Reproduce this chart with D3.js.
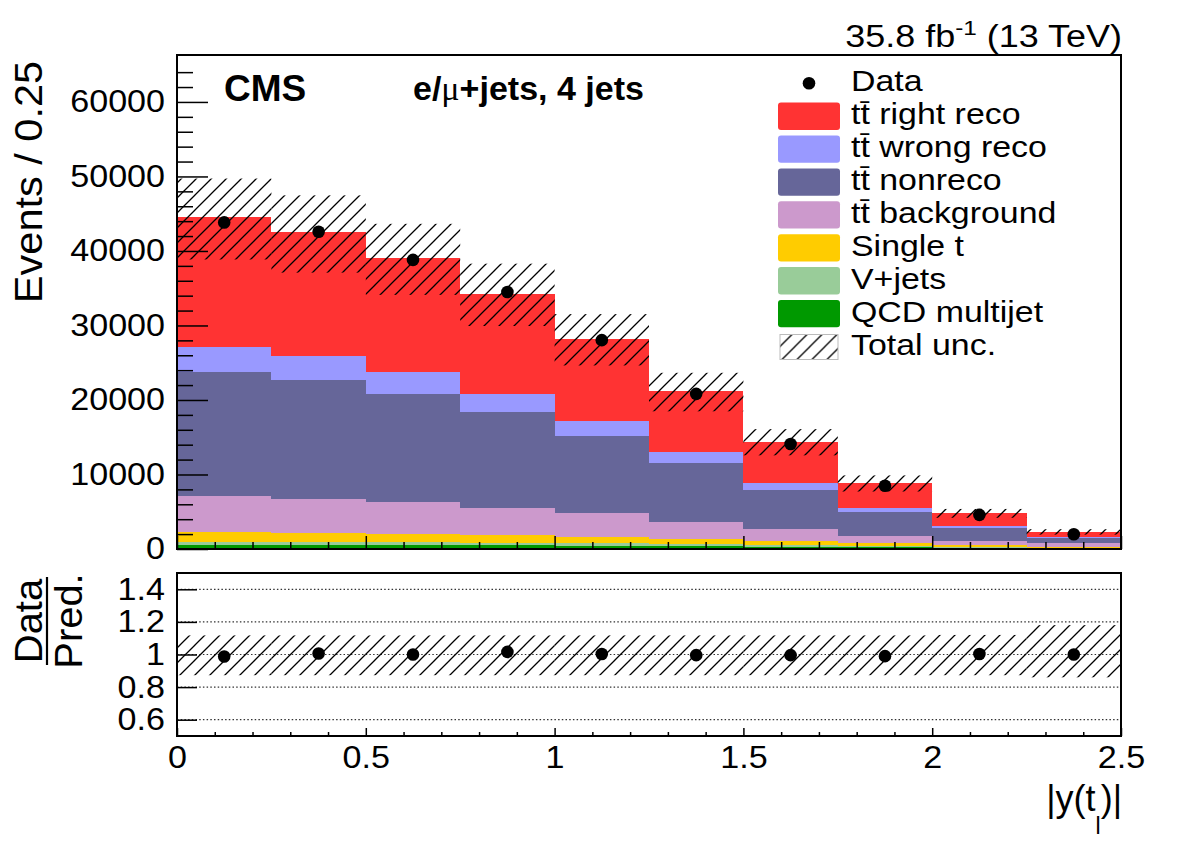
<!DOCTYPE html>
<html>
<head>
<meta charset="utf-8">
<title>|y(t_l)| control distribution</title>
<script src="https://cdn.jsdelivr.net/npm/d3@7/dist/d3.min.js"></script>
<style>
  html, body { margin: 0; padding: 0; background: #fff; }
  #chart { display: block; font-family: 'Liberation Sans', Arial, Helvetica, sans-serif; }
</style>
</head>
<body>
<svg id="chart" width="1182" height="848"></svg>
<script>
// bins in |y(t_l)|
const binEdges = [0, 0.25, 0.5, 0.75, 1, 1.25, 1.5, 1.75, 2, 2.25, 2.5];

// predicted yields per bin, stacked bottom -> top
const qcdMultijet = [540, 530, 510, 480, 450, 400, 330, 250, 160, 90];
const vJets = [440, 410, 390, 380, 350, 300, 250, 190, 140, 80];
const singleTop = [1270, 1170, 1120, 1020, 860, 650, 500, 410, 240, 140];
const ttBackground = [4920, 4620, 4260, 3680, 3140, 2260, 1570, 850, 580, 460];
const ttNonreco = [16610, 15920, 14580, 12840, 10410, 7920, 5290, 3240, 1670, 750];
const ttWrongReco = [3370, 3230, 2960, 2460, 2020, 1430, 900, 540, 310, 140];
const ttRightReco = [17360, 16610, 15250, 13420, 10990, 8210, 5560, 3360, 1700, 590];

const dataCounts = [43830, 42570, 38800, 34500, 28030, 20820, 14090, 8480, 4580, 1980];
const ratioValues = [0.988, 1.006, 1.0, 1.016, 1.003, 0.996, 0.996, 0.99, 1.003, 1.0];

// relative total uncertainty (up / down)
const uncUp = [0.117, 0.117, 0.117, 0.117, 0.117, 0.117, 0.117, 0.117, 0.12, 0.18];
const uncDown = [0.127, 0.127, 0.127, 0.127, 0.127, 0.127, 0.127, 0.127, 0.127, 0.14];

const mainYTicks = [0, 10000, 20000, 30000, 40000, 50000, 60000];
const ratioYTicks = [0.6, 0.8, 1, 1.2, 1.4];
const xTicks = [0, 0.5, 1, 1.5, 2, 2.5];

(function () {
  'use strict';

  const svg = d3.select('#chart');
  const frame = { left: 177, right: 1121, top: 55, bottom: 549 };
  const ratioFrame = { left: 177, right: 1121, top: 573, bottom: 736 };
  const stretch = 1.1;
  const labelSize = 31;

  const x = d3.scaleLinear().domain([binEdges[0], binEdges[binEdges.length - 1]]).range([frame.left, frame.right]);
  const y = d3.scaleLinear().domain([0, 66300]).range([frame.bottom, frame.top]);
  const yRatio = d3.scaleLinear().domain([0.5, 1.5]).range([ratioFrame.bottom, ratioFrame.top]);

  const processes = [
    { key: 'qcd', values: qcdMultijet, color: '#009900', label: 'QCD multijet' },
    { key: 'vjets', values: vJets, color: '#99cc99', label: 'V+jets' },
    { key: 'single', values: singleTop, color: '#ffcc00', label: 'Single t' },
    { key: 'ttbkg', values: ttBackground, color: '#cc99cc', label: 't\u0074\u0304 background' },
    { key: 'nonreco', values: ttNonreco, color: '#666699', label: 't\u0074\u0304 nonreco' },
    { key: 'wrong', values: ttWrongReco, color: '#9999ff', label: 't\u0074\u0304 wrong reco' },
    { key: 'right', values: ttRightReco, color: '#ff3333', label: 't\u0074\u0304 right reco' },
  ];

  const rows = dataCounts.map((_, i) => {
    const row = { lo: binEdges[i], hi: binEdges[i + 1], mid: (binEdges[i] + binEdges[i + 1]) / 2 };
    processes.forEach((p) => { row[p.key] = p.values[i]; });
    return row;
  });
  const series = d3.stack().keys(processes.map((p) => p.key))(rows);
  const totals = series[series.length - 1].map((d) => d[1]);

  const defs = svg.append('defs');
  const hatch = defs.append('pattern')
    .attr('id', 'hatch')
    .attr('patternUnits', 'userSpaceOnUse')
    .attr('width', 15)
    .attr('height', 15);
  hatch.append('path')
    .attr('d', 'M-4,4 L4,-4 M0,15 L15,0 M11,19 L19,11')
    .attr('stroke', '#000')
    .attr('stroke-width', 1.3);

  // ---- main pad ----
  svg.append('g')
    .selectAll('g')
    .data(series)
    .join('g')
    .attr('fill', (d) => processes.find((p) => p.key === d.key).color)
    .selectAll('rect')
    .data((d) => d)
    .join('rect')
    .attr('shape-rendering', 'crispEdges')
    .attr('x', (d) => x(d.data.lo))
    .attr('width', (d) => x(d.data.hi) - x(d.data.lo))
    .attr('y', (d) => y(d[1]))
    .attr('height', (d) => y(d[0]) - y(d[1]));

  svg.append('g')
    .selectAll('rect')
    .data(rows)
    .join('rect')
    .attr('x', (d) => x(d.lo))
    .attr('width', (d) => x(d.hi) - x(d.lo))
    .attr('y', (d, i) => y(totals[i] * (1 + uncUp[i])))
    .attr('height', (d, i) => y(totals[i] * (1 - uncDown[i])) - y(totals[i] * (1 + uncUp[i])))
    .attr('fill', 'url(#hatch)');

  svg.append('g')
    .selectAll('circle')
    .data(rows)
    .join('circle')
    .attr('cx', (d) => x(d.mid))
    .attr('cy', (d, i) => y(dataCounts[i]))
    .attr('r', 6.3)
    .attr('fill', '#000');

  function tidyAxis(g, size) {
    g.attr('font-family', null).attr('font-size', size || labelSize);
    g.select('.domain').remove();
    g.selectAll('line').attr('stroke', '#000').attr('stroke-width', 1.5);
    g.selectAll('text').attr('fill', '#000');
  }

  const yMinor = d3.range(0, 66000, 2000).filter((v) => v % 10000 !== 0);
  svg.append('g')
    .attr('transform', `translate(${frame.left},0)`)
    .call(d3.axisLeft(y).tickValues(yMinor).tickSize(-16).tickFormat(''))
    .call(tidyAxis);
  const yAxis = svg.append('g')
    .attr('transform', `translate(${frame.left},0)`)
    .call(d3.axisLeft(y).tickValues(mainYTicks).tickSize(-31).tickFormat(d3.format('d')))
    .call(tidyAxis);
  yAxis.selectAll('text').attr('x', -12 / stretch).attr('transform', `scale(${stretch},1)`);

  const xMinor = d3.range(0, 2.51, 0.1).map((v) => Math.round(v * 10) / 10).filter((v) => xTicks.indexOf(v) < 0);
  svg.append('g')
    .attr('transform', `translate(0,${frame.bottom})`)
    .call(d3.axisBottom(x).tickValues(xMinor).tickSize(-7).tickFormat(''))
    .call(tidyAxis);
  svg.append('g')
    .attr('transform', `translate(0,${frame.bottom})`)
    .call(d3.axisBottom(x).tickValues(xTicks).tickSize(-13).tickFormat(''))
    .call(tidyAxis);

  svg.append('rect')
    .attr('x', frame.left).attr('y', frame.top)
    .attr('width', frame.right - frame.left).attr('height', frame.bottom - frame.top)
    .attr('fill', 'none').attr('stroke', '#000').attr('stroke-width', 2);

  // ---- labels ----
  svg.append('text')
    .attr('x', 224).attr('y', 101)
    .attr('font-size', 37).attr('font-weight', 'bold')
    .text('CMS');
  const channel = svg.append('text')
    .attr('x', 413).attr('y', 100)
    .attr('font-size', 34).attr('font-weight', 'bold');
  channel.append('tspan').text('e/');
  channel.append('tspan').attr('font-family', "'Liberation Serif', serif").attr('font-weight', 'normal').text('\u03bc');
  channel.append('tspan').text('+jets, 4 jets');

  const lumi = svg.append('text')
    .attr('transform', 'translate(1122,47) scale(1.16,1)')
    .attr('text-anchor', 'end')
    .attr('font-size', 31);
  lumi.append('tspan').text('35.8 fb');
  lumi.append('tspan').attr('dy', -12).attr('font-size', 21).text('-1');
  lumi.append('tspan').attr('dy', 12).text(' (13 TeV)');

  svg.append('text')
    .attr('transform', 'translate(42,182) rotate(-90) scale(1.065,1)')
    .attr('text-anchor', 'middle')
    .attr('font-size', 39)
    .text('Events / 0.25');

  // ---- legend ----
  const legendEntries = [{ type: 'marker', label: 'Data' }]
    .concat(processes.slice().reverse().map((p) => ({ type: 'box', label: p.label, color: p.color })))
    .concat([{ type: 'hatch', label: 'Total unc.' }]);
  const legend = svg.append('g')
    .selectAll('g')
    .data(legendEntries)
    .join('g')
    .attr('transform', (d, i) => `translate(0,${83.3 + i * 32.9})`);
  legend.filter((d) => d.type === 'marker').append('circle')
    .attr('cx', 809).attr('cy', 0).attr('r', 6.3).attr('fill', '#000');
  legend.filter((d) => d.type === 'box').append('rect')
    .attr('x', 778).attr('y', -13.6).attr('width', 62).attr('height', 27.3).attr('rx', 3)
    .attr('fill', (d) => d.color);
  legend.filter((d) => d.type === 'hatch').append('rect')
    .attr('x', 780).attr('y', -12).attr('width', 58).attr('height', 25)
    .attr('fill', 'url(#hatch)').attr('stroke', '#bbb').attr('stroke-width', 1);
  legend.append('text')
    .attr('transform', 'translate(851,8) scale(1.13,1)')
    .attr('font-size', 30)
    .text((d) => d.label);

  // ---- ratio pad ----
  svg.append('g')
    .selectAll('line')
    .data(ratioYTicks)
    .join('line')
    .attr('x1', ratioFrame.left).attr('x2', ratioFrame.right)
    .attr('y1', (d) => yRatio(d)).attr('y2', (d) => yRatio(d))
    .attr('stroke', '#333').attr('stroke-width', 1.2).attr('stroke-dasharray', '1.5,2.2');

  svg.append('g')
    .selectAll('rect')
    .data(rows)
    .join('rect')
    .attr('x', (d) => x(d.lo))
    .attr('width', (d) => x(d.hi) - x(d.lo))
    .attr('y', (d, i) => yRatio(1 + uncUp[i]))
    .attr('height', (d, i) => yRatio(1 - uncDown[i]) - yRatio(1 + uncUp[i]))
    .attr('fill', 'url(#hatch)');

  svg.append('g')
    .selectAll('circle')
    .data(rows)
    .join('circle')
    .attr('cx', (d) => x(d.mid))
    .attr('cy', (d, i) => yRatio(ratioValues[i]))
    .attr('r', 6.3)
    .attr('fill', '#000');

  const yrAxis = svg.append('g')
    .attr('transform', `translate(${ratioFrame.left},0)`)
    .call(d3.axisLeft(yRatio).tickValues(ratioYTicks).tickSize(-20).tickFormat((d) => String(d)))
    .call(tidyAxis);
  yrAxis.selectAll('text').attr('x', -12 / stretch).attr('transform', `scale(${stretch},1)`);

  svg.append('g')
    .attr('transform', `translate(0,${ratioFrame.bottom})`)
    .call(d3.axisBottom(x).tickValues(xMinor).tickSize(-4).tickFormat(''))
    .call(tidyAxis);
  const xAxis = svg.append('g')
    .attr('transform', `translate(0,${ratioFrame.bottom})`)
    .call(d3.axisBottom(x).tickValues(xTicks).tickSize(-8).tickPadding(10).tickFormat((d) => String(d)))
    .call(tidyAxis);
  xAxis.selectAll('text').attr('transform', `scale(${stretch},1)`);

  svg.append('rect')
    .attr('x', ratioFrame.left).attr('y', ratioFrame.top)
    .attr('width', ratioFrame.right - ratioFrame.left).attr('height', ratioFrame.bottom - ratioFrame.top)
    .attr('fill', 'none').attr('stroke', '#000').attr('stroke-width', 2);

  const fracY = 621;
  svg.append('text')
    .attr('transform', `translate(42,${fracY}) rotate(-90) scale(1.05,1)`)
    .attr('text-anchor', 'middle').attr('font-size', 38)
    .text('Data');
  svg.append('text')
    .attr('transform', `translate(82,${fracY}) rotate(-90) scale(1.05,1)`)
    .attr('text-anchor', 'middle').attr('font-size', 38)
    .text('Pred.');
  svg.append('line')
    .attr('x1', 47).attr('x2', 47).attr('y1', fracY - 44).attr('y2', fracY + 44)
    .attr('stroke', '#000').attr('stroke-width', 2.2);

  const xTitle = svg.append('text')
    .attr('transform', 'translate(1122,811)')
    .attr('text-anchor', 'end')
    .attr('font-size', 36);
  xTitle.append('tspan').text('|y(t');
  xTitle.append('tspan').attr('dy', 23).attr('font-size', 23).text('l');
  xTitle.append('tspan').attr('dy', -23).text(')|');
})();
</script>
</body>
</html>
